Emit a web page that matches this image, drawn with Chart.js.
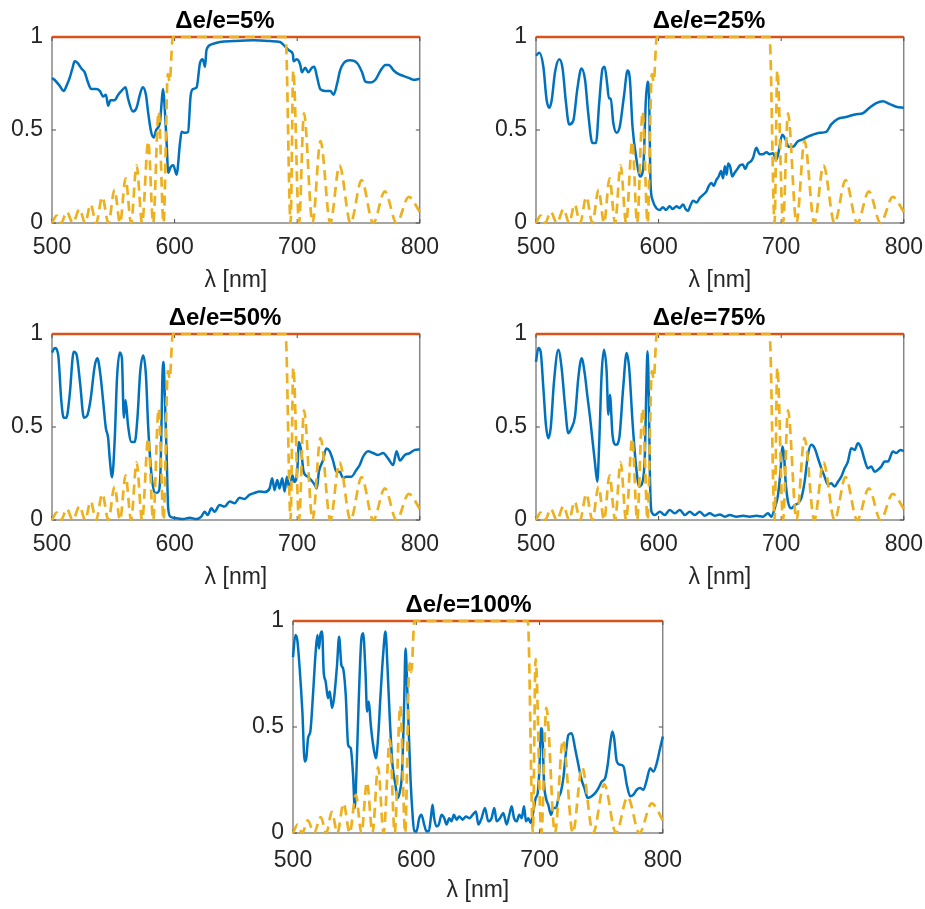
<!DOCTYPE html>
<html>
<head>
<meta charset="utf-8">
<script src="https://cdn.jsdelivr.net/npm/chart.js@4.4.0/dist/chart.umd.min.js"></script>
<style>
  html, body { margin: 0; padding: 0; background: #fff; overflow: hidden; }
  body { width: 925px; height: 909px; position: relative; }
  canvas { position: absolute; }
</style>
</head>
<body>
<canvas id="p1" width="450" height="295" style="left:0px;top:0px"></canvas>
<canvas id="p2" width="450" height="295" style="left:484px;top:0px"></canvas>
<canvas id="p3" width="450" height="295" style="left:0px;top:297px"></canvas>
<canvas id="p4" width="450" height="295" style="left:484px;top:297px"></canvas>
<canvas id="p5" width="455" height="321" style="left:241px;top:584px"></canvas>
<script>
// axis ticks and panel titles
const xTicks = [500, 600, 700, 800];
const yTicks = [0, 0.5, 1];
const titles = ['Δe/e=5%', 'Δe/e=25%', 'Δe/e=50%', 'Δe/e=75%', 'Δe/e=100%'];

// ideal reflectance (red)
const idealLam = [500, 800];
const idealR = [1, 1];

// Bragg mirror reflectance (yellow dashed), same in every panel
const braggLam = [500, 503.8, 507.5, 512, 517, 522.5, 527, 531.5, 536, 541, 546, 551, 555.5, 560, 564.5,
  569, 573.5, 578.5, 582.5, 587, 591, 594.5, 596, 598.5, 620, 650, 680, 690.5, 694.6, 696.8, 701.5,
  705.5, 712.5, 719, 727, 734.5, 743.5, 752.5, 762, 771.5, 781, 791, 800];
const braggR = [0, 0.04, 0, 0.06, 0, 0.075, 0, 0.1, 0, 0.14, 0, 0.18, 0, 0.24, 0,
  0.31, 0, 0.44, 0, 0.6, 0, 0.8, 0.76, 1, 1, 1, 1, 1, 0, 0.82, 0,
  0.59, 0, 0.44, 0, 0.31, 0, 0.23, 0, 0.17, 0, 0.14, 0.06];

// measured spectra (blue)
const lam5 = [500, 502, 506, 509.5, 512, 514.4, 516.6, 518.5, 521, 524, 526.7, 529.4, 532, 536, 539,
  541.7, 544, 545.8, 547.7, 551, 554, 556.7, 560, 562, 566, 569, 571.7, 574, 576.6, 578.5,
  581, 583, 585, 588, 590.7, 592, 593.5, 594.8, 596.7, 599, 601.6, 604.4, 605.7, 608.4, 611,
  613, 615, 618, 620.7, 622.9, 624.8, 626, 630, 637, 648, 664, 678, 686, 690, 694,
  696.5, 697, 699.7, 702.5, 703.8, 706.5, 709, 712, 714, 716, 718.8, 723, 727, 729.7, 732.4,
  735, 738, 743, 748.8, 752.9, 755.6, 759.7, 763.8, 768, 772, 774.7, 778.7, 782.8, 787, 791,
  795, 800];
const r5 = [0.78, 0.77, 0.74, 0.71, 0.74, 0.78, 0.83, 0.87, 0.86, 0.83, 0.81, 0.755, 0.72, 0.72, 0.71,
  0.68, 0.69, 0.63, 0.66, 0.66, 0.69, 0.71, 0.73, 0.67, 0.6, 0.62, 0.69, 0.73, 0.69, 0.59,
  0.485, 0.46, 0.5, 0.54, 0.72, 0.61, 0.43, 0.27, 0.3, 0.31, 0.26, 0.43, 0.49, 0.485, 0.49,
  0.68, 0.72, 0.73, 0.86, 0.88, 0.84, 0.93, 0.96, 0.973, 0.978, 0.982, 0.978, 0.973, 0.95, 0.925,
  0.907, 0.87, 0.88, 0.85, 0.81, 0.835, 0.81, 0.835, 0.84, 0.79, 0.72, 0.71, 0.71, 0.69, 0.745,
  0.82, 0.86, 0.875, 0.86, 0.81, 0.76, 0.755, 0.77, 0.82, 0.85, 0.85, 0.82, 0.8, 0.79, 0.78,
  0.77, 0.775];

const lam25 = [500, 502.7, 506, 508.7, 510.9, 512.8, 515.5, 519, 521.7, 524.4, 527, 530.4, 533.7, 537, 540,
  542.6, 546, 548.9, 551.6, 554.3, 556, 558, 559.5, 561, 563, 565.7, 568.4, 571.7, 574.7, 576.6,
  578.7, 582, 584.7, 587.4, 589.6, 591, 592.3, 593.4, 595, 598.1, 601, 603.5, 606, 609, 611.5,
  614.6, 617, 620, 622, 624, 626, 628, 631, 633.6, 636, 639, 641, 643, 645, 647,
  649, 651, 652.5, 654, 655.5, 656.7, 658.5, 660, 662, 664.7, 666.5, 668.8, 670.5, 672.8, 675,
  677, 679.7, 682.4, 685, 688, 690.5, 693.3, 696, 698, 700.8, 703.5, 706, 709.6, 713.6, 717.7,
  721.8, 725.9, 731.3, 736.7, 740.8, 746.2, 753, 761.2, 766.6, 772, 777.5, 782.9, 788.3, 793.8, 800];
const r25 = [0.9, 0.915, 0.84, 0.66, 0.62, 0.66, 0.81, 0.88, 0.83, 0.65, 0.53, 0.55, 0.72, 0.83, 0.77,
  0.59, 0.43, 0.43, 0.65, 0.83, 0.84, 0.75, 0.67, 0.67, 0.54, 0.485, 0.52, 0.68, 0.82, 0.77,
  0.52, 0.34, 0.25, 0.29, 0.66, 0.76, 0.66, 0.215, 0.125, 0.08, 0.07, 0.085, 0.07, 0.09, 0.075,
  0.09, 0.08, 0.1, 0.075, 0.065, 0.095, 0.12, 0.11, 0.135, 0.15, 0.17, 0.2, 0.215, 0.2, 0.23,
  0.25, 0.28, 0.24, 0.305, 0.26, 0.32, 0.3, 0.25, 0.27, 0.295, 0.31, 0.315, 0.29, 0.32, 0.33,
  0.35, 0.405, 0.37, 0.37, 0.38, 0.37, 0.375, 0.34, 0.385, 0.475, 0.45, 0.41, 0.41, 0.44, 0.45,
  0.465, 0.475, 0.485, 0.49, 0.53, 0.56, 0.57, 0.585, 0.59, 0.62, 0.645, 0.655, 0.64, 0.625, 0.62];

const lam50 = [500, 502.2, 505, 507.6, 509.5, 511.7, 514.4, 517.7, 520, 523, 526, 528.6, 531.3, 534.9, 537,
  539.5, 541.7, 543.9, 545.8, 547.1, 549, 551.2, 553, 555.3, 557, 558.6, 560, 562, 564.8, 567.5,
  569.7, 572, 574.4, 576.6, 578.5, 581.2, 584, 586.6, 588.6, 590, 591, 592, 593.5, 594.8, 596.7,
  601.6, 607, 612.2, 617.7, 621.8, 624.5, 627, 630, 632.6, 636.7, 640.8, 645, 649, 653, 657,
  661, 665, 669.3, 673.4, 677.5, 679.6, 681.5, 683.7, 685.6, 687.8, 689.7, 691.6, 693.8, 696, 697.8,
  700, 701.4, 703.3, 705.2, 708.7, 711.4, 714.2, 716, 717.7, 721, 723.7, 726.4, 729.2, 731.9, 734.6,
  737.4, 740, 744.2, 748.3, 751, 753.7, 757.8, 761.9, 766, 770, 774.2, 778.3, 781, 783.8, 787.8,
  791.9, 796, 800];
const r50 = [0.9, 0.925, 0.89, 0.64, 0.55, 0.55, 0.67, 0.905, 0.89, 0.73, 0.55, 0.56, 0.64, 0.83, 0.87,
  0.78, 0.64, 0.495, 0.44, 0.33, 0.23, 0.44, 0.76, 0.9, 0.87, 0.55, 0.645, 0.51, 0.42, 0.42,
  0.55, 0.8, 0.885, 0.78, 0.495, 0.24, 0.145, 0.15, 0.28, 0.76, 0.85, 0.67, 0.35, 0.06, 0.018,
  0.01, 0.005, 0.012, 0.005, 0.018, 0.045, 0.027, 0.063, 0.045, 0.08, 0.072, 0.1, 0.09, 0.12, 0.113,
  0.135, 0.145, 0.153, 0.15, 0.17, 0.225, 0.16, 0.215, 0.17, 0.225, 0.153, 0.233, 0.16, 0.24, 0.205,
  0.26, 0.42, 0.37, 0.26, 0.233, 0.215, 0.19, 0.17, 0.26, 0.32, 0.385, 0.37, 0.32, 0.26, 0.26,
  0.225, 0.233, 0.233, 0.27, 0.296, 0.34, 0.37, 0.36, 0.35, 0.36, 0.33, 0.296, 0.37, 0.32, 0.35,
  0.36, 0.377, 0.38];

const lam75 = [500, 501.9, 503.8, 506, 508.1, 510, 512, 514.7, 518.2, 520.9, 523.6, 526.3, 529, 531.8, 534.5,
  537.2, 539.9, 541.8, 544, 546.2, 548, 550, 551.6, 553.5, 555.4, 557.6, 559, 560.3, 562.4, 565.2,
  567.9, 571.1, 573.9, 576, 578.7, 581.5, 584.2, 586.9, 588.8, 590.1, 591, 592, 592.9, 594.2, 597,
  601, 605, 609, 613.2, 617.3, 621.4, 625.4, 629.5, 633.6, 637.7, 641.7, 645.8, 649.9, 654, 658,
  663.5, 668.9, 674.3, 679.7, 685.2, 689.2, 692, 694.7, 697.4, 699.6, 700.9, 702.3, 703.6, 705.5, 708.3,
  711, 713.7, 716.4, 719.1, 721.8, 724.5, 727.3, 730, 732.7, 735.4, 738.1, 740.8, 743.6, 746.3, 749,
  751.7, 754.4, 757.1, 759.9, 762.6, 765.3, 768, 770.7, 773.4, 776.2, 778.9, 781.6, 784.3, 787, 791.1,
  793.8, 797.3, 800];
const r75 = [0.85, 0.925, 0.905, 0.71, 0.51, 0.44, 0.495, 0.745, 0.915, 0.817, 0.62, 0.467, 0.495, 0.557, 0.763,
  0.87, 0.78, 0.673, 0.557, 0.422, 0.314, 0.206, 0.422, 0.78, 0.915, 0.8, 0.566, 0.673, 0.458, 0.404,
  0.44, 0.71, 0.898, 0.817, 0.53, 0.296, 0.18, 0.206, 0.35, 0.745, 0.907, 0.673, 0.242, 0.045, 0.027,
  0.045, 0.027, 0.054, 0.036, 0.054, 0.027, 0.045, 0.027, 0.045, 0.023, 0.036, 0.023, 0.03, 0.018, 0.027,
  0.018, 0.023, 0.018, 0.023, 0.018, 0.036, 0.018, 0.063, 0.135, 0.278, 0.395, 0.35, 0.206, 0.1, 0.063,
  0.08, 0.09, 0.117, 0.206, 0.35, 0.404, 0.386, 0.332, 0.278, 0.233, 0.19, 0.197, 0.18, 0.206, 0.233,
  0.278, 0.314, 0.386, 0.377, 0.413, 0.386, 0.323, 0.278, 0.287, 0.26, 0.27, 0.287, 0.314, 0.314, 0.368,
  0.36, 0.377, 0.37];

const lam100 = [500, 501.9, 503.5, 505.4, 507.6, 509.5, 510.8, 512.2, 514.1, 516.2,
  518.4, 519.8, 521.1, 522.2, 523.6, 524.9, 526.5, 528.4, 529.8, 531.7,
  533.3, 535.7, 537.4, 539.3, 540.6, 542.8, 544.7, 546.8, 548.7, 550.1,
  551.4, 553.3, 555.5, 556.9, 558.8, 560.1, 561.5, 563.1, 565, 567.2,
  569, 571, 573.1, 575, 576.6, 578.5, 580.7, 583.1, 584.8, 586.7,
  588.5, 590.2, 591.3, 592.6, 594, 595.3, 597, 598.3, 600.2, 602.4,
  604.2, 606.4, 608.3, 610.2, 611.8, 613.2, 614.5, 616.4, 618.3, 620.5,
  622.7, 624.6, 626.7, 628.6, 630.5, 632.7, 634.8, 637.6, 640.3, 643,
  645.7, 648.4, 650.3, 653, 655.7, 658.4, 661.1, 663.3, 665.2, 667.9,
  670.6, 673.3, 675.5, 677.4, 679.3, 681.4, 683.6, 685.5, 687.4, 689,
  690.9, 692.8, 695, 696.9, 698.5, 699.8, 701.2, 702.5, 703.6, 705.2,
  707.1, 709.3, 711.2, 713.4, 715.3, 717.4, 719.3, 721.5, 723.4, 726.1,
  728.8, 731.5, 733.7, 736.4, 739.1, 742.3, 745.1, 747.8, 750.5, 753.2,
  755.3, 757.2, 759.1, 760.5, 762.7, 765.4, 768.1, 770.8, 773.5, 776.2,
  778.9, 781.6, 784.3, 787, 789.7, 792.4, 795.1, 797.8, 800];
const r100 = [0.83, 0.934, 0.91, 0.777, 0.573, 0.337, 0.353, 0.447, 0.48, 0.65,
  0.856, 0.934, 0.87, 0.934, 0.95, 0.76, 0.714, 0.636, 0.667, 0.59,
  0.636, 0.79, 0.926, 0.79, 0.777, 0.65, 0.416, 0.4, 0.275, 0.118,
  0.275, 0.62, 0.918, 0.942, 0.76, 0.573, 0.62, 0.51, 0.416, 0.353,
  0.447, 0.65, 0.84, 0.95, 0.79, 0.541, 0.322, 0.228, 0.165, 0.196,
  0.29, 0.62, 0.87, 0.7, 0.463, 0.259, 0.086, 0.008, 0.008, 0.07,
  0.086, 0.04, 0.008, 0.008, 0.07, 0.133, 0.07, 0.031, 0.04, 0.086,
  0.07, 0.04, 0.07, 0.055, 0.086, 0.063, 0.078, 0.063, 0.078, 0.07,
  0.086, 0.102, 0.04, 0.07, 0.118, 0.055, 0.07, 0.118, 0.055, 0.07,
  0.094, 0.04, 0.086, 0.126, 0.07, 0.055, 0.086, 0.07, 0.126, 0.055,
  0.07, 0.047, 0.102, 0.165, 0.188, 0.29, 0.494, 0.447, 0.243, 0.165,
  0.133, 0.086, 0.118, 0.118, 0.165, 0.196, 0.259, 0.385, 0.463, 0.471,
  0.4, 0.322, 0.259, 0.212, 0.165, 0.173, 0.188, 0.212, 0.243, 0.259,
  0.322, 0.416, 0.479, 0.447, 0.337, 0.322, 0.314, 0.228, 0.173, 0.181,
  0.204, 0.212, 0.204, 0.251, 0.306, 0.29, 0.33, 0.4, 0.455];

const BLUE = '#0072BD';
const RED = '#D95319';
const YELLOW = '#EDB120';
const TEXT = '#262626';
const FONT = "'Liberation Sans', Arial, Helvetica, sans-serif";

function pts(xs, ys) {
  return xs.map((x, i) => ({ x: x, y: ys[i] }));
}

// matlab style box with inward ticks
const axesBox = {
  id: 'axesBox',
  beforeDatasetsDraw(chart) {
    const { ctx, chartArea: a, scales } = chart;
    const x = scales.x, y = scales.y;
    ctx.save();
    ctx.strokeStyle = '#4d4d4d';
    ctx.lineWidth = 1;
    ctx.strokeRect(a.left, a.top, a.right - a.left, a.bottom - a.top);
    ctx.beginPath();
    x.ticks.forEach(t => {
      const px = x.getPixelForValue(t.value);
      ctx.moveTo(px, a.bottom); ctx.lineTo(px, a.bottom - 4);
      ctx.moveTo(px, a.top); ctx.lineTo(px, a.top + 4);
    });
    y.ticks.forEach(t => {
      const py = y.getPixelForValue(t.value);
      ctx.moveTo(a.left, py); ctx.lineTo(a.left + 4, py);
      ctx.moveTo(a.right, py); ctx.lineTo(a.right - 4, py);
    });
    ctx.stroke();
    ctx.restore();
  }
};

function makeChart(id, title, lam, val, tickPad) {
  const tickFont = { family: FONT, size: 23, lineHeight: 1.2 };
  new Chart(document.getElementById(id), {
    type: 'line',
    data: {
      datasets: [
        { data: pts(braggLam, braggR), borderColor: YELLOW, borderWidth: 2.7, borderDash: [10, 6],
          cubicInterpolationMode: 'monotone', clip: 4 },
        { data: pts(idealLam, idealR), borderColor: RED, borderWidth: 2.7, clip: 4 },
        { data: pts(lam, val), borderColor: BLUE, borderWidth: 2.5, cubicInterpolationMode: 'monotone', clip: 4 }
      ]
    },
    options: {
      responsive: false,
      animation: false,
      devicePixelRatio: 1,
      elements: { point: { radius: 0 } },
      layout: { padding: { left: 0, right: 0, top: 0, bottom: 0 } },
      plugins: {
        legend: { display: false },
        tooltip: { enabled: false },
        title: {
          display: true, text: title, color: '#000',
          font: { family: FONT, size: 24, weight: 'bold', lineHeight: 1.2 },
          padding: { top: 7, bottom: 1.2 }
        }
      },
      scales: {
        x: {
          type: 'linear', min: 500, max: 800,
          afterBuildTicks: s => { s.ticks = xTicks.map(v => ({ value: v })); },
          afterFit: s => { s.height = 72; },
          grid: { display: false, drawTicks: false },
          border: { display: false },
          ticks: { padding: tickPad, color: TEXT, font: tickFont, maxRotation: 0, autoSkip: false },
          title: { display: true, text: 'λ [nm]', color: TEXT, font: tickFont, padding: { top: 0, bottom: 1 } }
        },
        y: {
          type: 'linear', min: 0, max: 1,
          afterBuildTicks: s => { s.ticks = yTicks.map(v => ({ value: v })); },
          afterFit: s => { s.width = 52; },
          grid: { display: false, drawTicks: false },
          border: { display: false },
          ticks: { padding: 9, color: TEXT, font: tickFont, callback: v => String(v) }
        }
      }
    },
    plugins: [axesBox]
  });
}

makeChart('p1', titles[0], lam5, r5, 11);
makeChart('p2', titles[1], lam25, r25, 11);
makeChart('p3', titles[2], lam50, r50, 11);
makeChart('p4', titles[3], lam75, r75, 11);
makeChart('p5', titles[4], lam100, r100, 14);
</script>
</body>
</html>
